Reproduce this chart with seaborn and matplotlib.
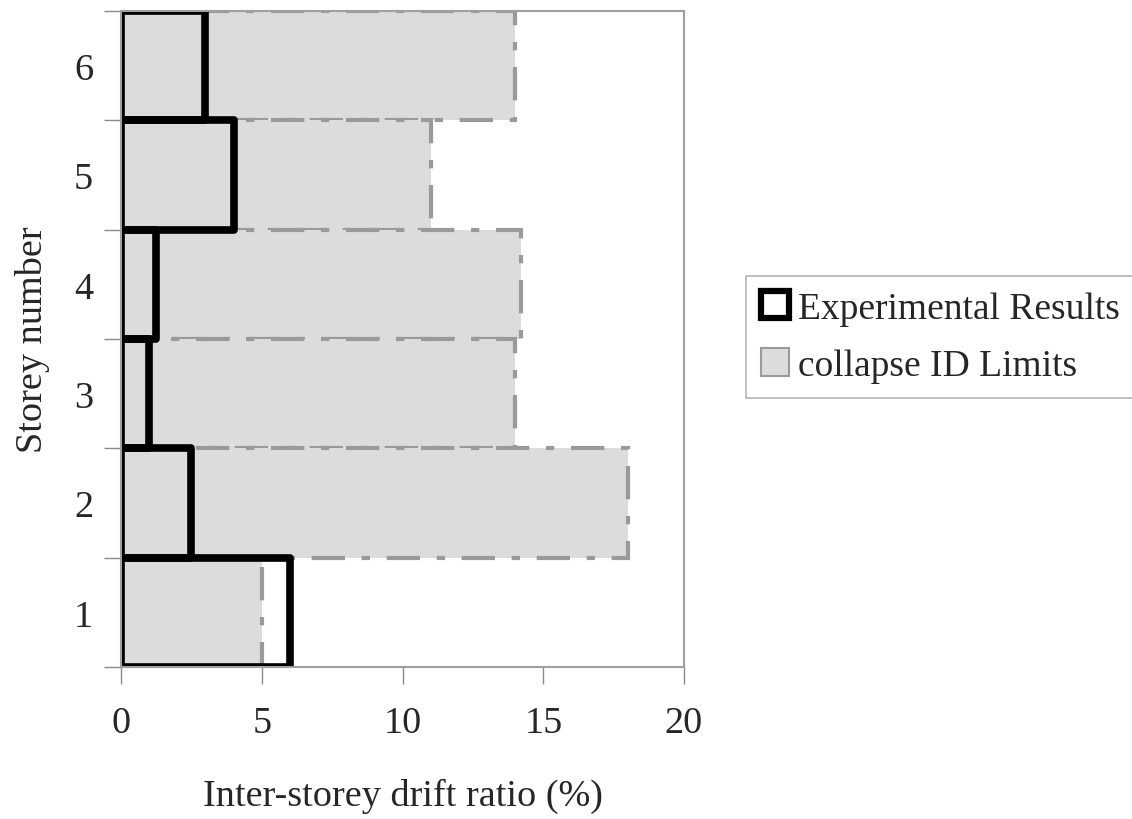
import matplotlib
matplotlib.use("Agg")
import matplotlib.pyplot as plt
from matplotlib.patches import Patch
import seaborn as sns
import pandas as pd

# Storey drift data
storeys = ["6", "5", "4", "3", "2", "1"]
collapse_limits = [14.0, 11.0, 14.2, 14.0, 18.0, 5.0]
experimental = [3.0, 4.0, 1.25, 1.0, 2.5, 6.0]
x_ticks = [0, 5, 10, 15, 20]

sns.set_theme(style="white")
plt.rcParams["font.family"] = ["Liberation Serif", "DejaVu Serif"]

df = pd.DataFrame({"storey": storeys, "collapse": collapse_limits, "exp": experimental})

fig = plt.figure(figsize=(11.32, 8.2), dpi=100)
ax = fig.add_axes([121 / 1132, 1 - 668 / 820, (684 - 121) / 1132, (668 - 12) / 820])

grey_edge = "#9a9a9a"
sns.barplot(data=df, x="collapse", y="storey", order=storeys, orient="h", width=1.0,
            color="#dcdcdc", saturation=1, edgecolor=grey_edge, linewidth=3.0,
            linestyle=(0, (8, 4, 2, 4)), ax=ax)
n_first = len(ax.patches)
sns.barplot(data=df, x="exp", y="storey", order=storeys, orient="h", width=1.0,
            fill=False, edgecolor="black", linewidth=5.5, ax=ax)
for p in ax.patches[n_first:]:
    p.set_joinstyle("round")

fs = 27.5
ax.set_xlim(0, 20)
ax.set_ylim(5.5, -0.5)
ax.set_xticks(x_ticks)
ax.set_xticklabels([str(v) for v in x_ticks], fontsize=fs)
ax.set_yticks(range(len(storeys)))
ax.set_yticklabels(storeys, fontsize=fs)
ax.set_yticks([i - 0.5 for i in range(len(storeys) + 1)], minor=True)
ax.tick_params(axis="y", which="major", length=0, pad=20)
ax.tick_params(axis="y", which="minor", left=True, length=12, width=1, color="#8a8a8a")
ax.tick_params(axis="x", which="major", bottom=True, length=12, width=1, color="#8a8a8a", pad=16)

for side in ["top", "right", "bottom", "left"]:
    ax.spines[side].set_color("#a0a0a0")
    ax.spines[side].set_linewidth(1.5)

ax.set_xlabel("Inter-storey drift ratio (%)", fontsize=fs, labelpad=27)
ax.set_ylabel("Storey number", fontsize=fs, labelpad=17)

handles = [
    Patch(facecolor="white", edgecolor="black", linewidth=4.5, label="Experimental Results"),
    Patch(facecolor="#dcdcdc", edgecolor=grey_edge, linewidth=1.5, label="collapse ID Limits"),
]
leg = fig.legend(handles=handles, loc="center left",
                 bbox_to_anchor=(746 / 1132, 1 - 338 / 820), fontsize=27,
                 frameon=True, fancybox=False, edgecolor="#a0a0a0",
                 handlelength=0.75, handleheight=0.75, handletextpad=0.25,
                 labelspacing=0.6, borderpad=0.4, borderaxespad=0)
leg.get_frame().set_linewidth(1.2)

fig.savefig("out.png", dpi=100)
